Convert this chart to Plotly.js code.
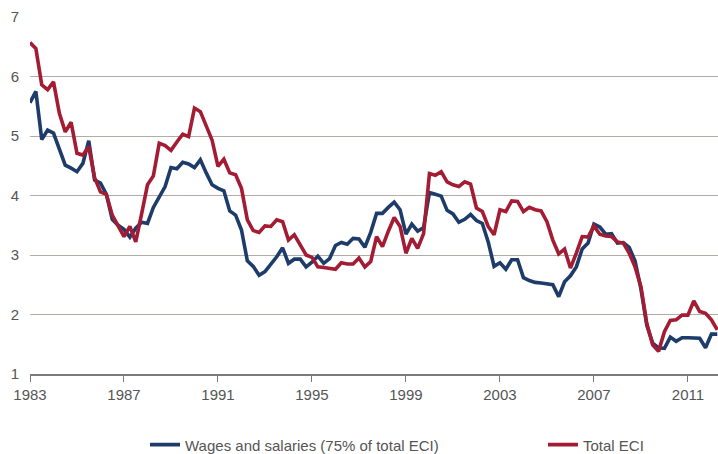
<!DOCTYPE html>
<html>
<head>
<meta charset="utf-8">
<script src="https://cdn.plot.ly/plotly-3.0.1.min.js"></script>
<style>
html,body{margin:0;padding:0;background:#fff;}
#chart{width:718px;height:454px;}
</style>
</head>
<body>
<div id="chart"></div>
<script>
// Quarterly series starting 1983 Q1
var startYear = 1983;
var seriesNames = ["Wages and salaries (75% of total ECI)", "Total ECI"];
var yTicks = [1, 2, 3, 4, 5, 6, 7];
var xTicks = [1983, 1987, 1991, 1995, 1999, 2003, 2007, 2011];

var wages = [
 5.56,5.75,4.94,5.10,5.05,4.79,4.51,4.46,4.40,4.54,
 4.92,4.26,4.21,4.02,3.60,3.50,3.43,3.30,3.45,3.55,
 3.53,3.80,3.97,4.15,4.47,4.45,4.56,4.53,4.47,4.60,
 4.38,4.18,4.12,4.08,3.74,3.67,3.42,2.90,2.81,2.66,
 2.72,2.84,2.97,3.12,2.86,2.93,2.93,2.80,2.88,2.98,
 2.86,2.94,3.16,3.21,3.18,3.28,3.27,3.13,3.38,3.70,
 3.70,3.80,3.89,3.76,3.35,3.52,3.40,3.46,4.05,4.02,
 3.99,3.75,3.69,3.55,3.60,3.68,3.58,3.53,3.22,2.81,
 2.87,2.76,2.92,2.92,2.62,2.57,2.54,2.53,2.52,2.50,
 2.30,2.55,2.65,2.80,3.10,3.20,3.52,3.47,3.35,3.36,
 3.20,3.21,3.13,2.90,2.43,1.82,1.52,1.44,1.43,1.62,
 1.55,1.61,1.61,1.61,1.60,1.44,1.67,1.67
];
var totalECI = [
 6.57,6.47,5.86,5.78,5.91,5.38,5.07,5.23,4.71,4.68,
 4.82,4.30,4.06,4.02,3.67,3.50,3.31,3.48,3.22,3.69,
 4.18,4.33,4.88,4.84,4.76,4.90,5.03,4.99,5.47,5.41,
 5.16,4.93,4.49,4.61,4.38,4.35,4.12,3.59,3.41,3.38,
 3.49,3.48,3.59,3.56,3.25,3.34,3.17,3.00,2.96,2.80,
 2.79,2.78,2.76,2.87,2.85,2.85,2.95,2.80,2.89,3.31,
 3.14,3.40,3.63,3.48,3.03,3.28,3.11,3.36,4.37,4.34,
 4.40,4.23,4.18,4.15,4.23,4.19,3.79,3.73,3.48,3.34,
 3.76,3.73,3.91,3.90,3.73,3.80,3.76,3.74,3.56,3.25,
 3.02,3.10,2.78,3.03,3.31,3.30,3.49,3.35,3.32,3.31,
 3.22,3.20,3.03,2.80,2.47,1.85,1.49,1.38,1.71,1.90,
 1.91,1.99,1.99,2.23,2.05,2.02,1.91,1.74
];

function quarters(n){ var a=[]; for(var i=0;i<n;i++){a.push(startYear+i/4);} return a; }

var textFont = {family:"Liberation Sans, Arial, sans-serif", size:15, color:"#555555"};

var traces = [
 {x:quarters(wages.length), y:wages, type:"scatter", mode:"lines", name:seriesNames[0],
  legend:"legend", line:{color:"#1d3c6a", width:3.6}},
 {x:quarters(totalECI.length), y:totalECI, type:"scatter", mode:"lines", name:seriesNames[1],
  legend:"legend2", line:{color:"#a31c33", width:3.6}}
];

var legendBase = {orientation:"h", xref:"container", yref:"container", xanchor:"left",
  yanchor:"middle", y:0.02, font:textFont, bgcolor:"rgba(0,0,0,0)", borderwidth:0};

var layout = {
 width:718, height:454,
 margin:{l:30, r:0, t:17, b:80, autoexpand:false},
 paper_bgcolor:"#ffffff", plot_bgcolor:"#ffffff",
 font:textFont,
 showlegend:true,
 legend:Object.assign({}, legendBase, {x:145/718}),
 legend2:Object.assign({}, legendBase, {x:543/718}),
 xaxis:{range:[1983, 2012.28], tickmode:"array", tickvals:xTicks, ticktext:xTicks.map(String),
   showgrid:false, zeroline:false, showline:true, linecolor:"#7a7a7a", linewidth:1.5,
   ticks:"outside", ticklen:6, tickcolor:"#7a7a7a", tickwidth:1, tickfont:textFont},
 yaxis:{range:[1,7], tickmode:"array", tickvals:yTicks, ticktext:yTicks.map(String),
   showgrid:true, gridcolor:"#b3aca5", gridwidth:1, zeroline:false, showline:false,
   ticks:"", ticklabelstandoff:10, tickfont:textFont}
};

Plotly.newPlot("chart", traces, layout, {displayModeBar:false, staticPlot:true});
</script>
</body>
</html>
